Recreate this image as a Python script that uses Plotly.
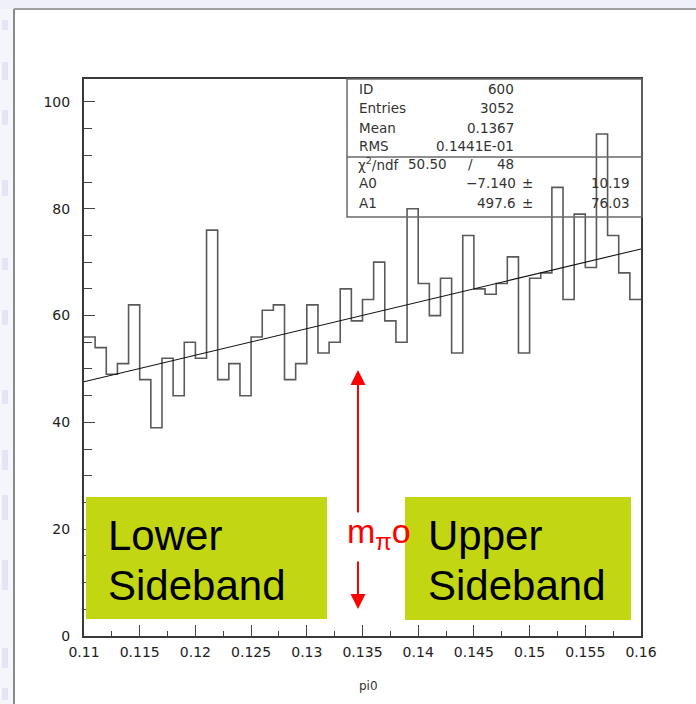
import plotly.graph_objects as go
import numpy as np

# ---------------- data ----------------
counts = [56, 54, 49, 51, 62, 48, 39, 52, 45, 55, 52, 76, 48, 51, 45, 56,
          61, 62, 48, 51, 62, 53, 55, 65, 59, 63, 70, 59, 55, 80, 66, 60, 67, 53,
          75, 65, 64, 66, 71, 53, 67, 68, 84, 63, 79, 69, 94, 75, 68, 63]
x_min, x_max = 0.11, 0.16
x_tick_vals = [0.11, 0.115, 0.12, 0.125, 0.13, 0.135, 0.14, 0.145, 0.15, 0.155, 0.16]
x_tick_text = ["0.11", "0.115", "0.12", "0.125", "0.13", "0.135", "0.14", "0.145", "0.15", "0.155", "0.16"]
y_tick_vals = [0, 20, 40, 60, 80, 100]
stat_names = ["ID", "Entries", "Mean", "RMS"]
stat_values = ["600", "3052", "0.1367", "0.1441E-01"]
chi2_value, ndf_value = "50.50", "48"
fit_names = ["A0", "A1"]
fit_values = ["\u22127.140", "497.6"]
fit_errors = ["10.19", "76.03"]
A0, A1 = -7.140, 497.6
x_title = "pi0"
band_labels = [["Lower", "Sideband"], ["Upper", "Sideband"]]

# ---------------- geometry helpers ----------------
W, H = 696, 704
L, R, T, B = 84, 641, 79, 636


def PX(px):
    return (px - L) / (R - L)


def PY(py):
    return (B - py) / (B - T)


n_bins = len(counts)
edges = np.linspace(x_min, x_max, n_bins + 1)

fig = go.Figure()

# histogram outline
fig.add_trace(go.Scatter(
    x=edges, y=counts + [counts[-1]], mode="lines",
    line=dict(shape="hv", color="#5a5a5a", width=1.6),
    hoverinfo="skip", showlegend=False))

# linear fit
fx = np.array([x_min, x_max])
fig.add_trace(go.Scatter(
    x=fx, y=A0 + A1 * fx, mode="lines",
    line=dict(color="#111111", width=1.1),
    hoverinfo="skip", showlegend=False))

shapes = []
# slide background strips
shapes.append(dict(type="rect", xref="paper", yref="paper", x0=PX(0), x1=PX(14), y0=PY(H + 5), y1=PY(-5),
                   fillcolor="#f5f5fc", line=dict(width=0), layer="below"))
shapes.append(dict(type="rect", xref="paper", yref="paper", x0=PX(0), x1=PX(W + 5), y0=PY(9), y1=PY(-5),
                   fillcolor="#f0f0fa", line=dict(width=0), layer="below"))
for (ya, yb) in [(20, 30), (62, 80), (110, 125), (180, 196), (258, 270), (310, 325), (390, 404),
                 (450, 470), (495, 520), (560, 590), (648, 668), (688, 700)]:
    shapes.append(dict(type="rect", xref="paper", yref="paper", x0=PX(2), x1=PX(8), y0=PY(yb), y1=PY(ya),
                       fillcolor="#e4e4f7", line=dict(width=0), layer="below"))
# outer frame
shapes.append(dict(type="line", xref="paper", yref="paper", x0=PX(14), x1=PX(14), y0=PY(9), y1=PY(H + 5),
                   line=dict(color="#8a8a8a", width=2)))
shapes.append(dict(type="line", xref="paper", yref="paper", x0=PX(14), x1=PX(W + 5), y0=PY(9), y1=PY(9),
                   line=dict(color="#a0a0a0", width=2)))
# stats box
shapes.append(dict(type="rect", xref="paper", yref="paper", x0=PX(347), x1=PX(642), y0=PY(217), y1=PY(79),
                   line=dict(color="#6a6a6a", width=1.5)))
shapes.append(dict(type="line", xref="paper", yref="paper", x0=PX(347), x1=PX(642), y0=PY(157), y1=PY(157),
                   line=dict(color="#6a6a6a", width=1.5)))
# sideband boxes
green = "#c2d612"
shapes.append(dict(type="rect", xref="paper", yref="paper", x0=PX(86), x1=PX(327), y0=PY(619), y1=PY(497),
                   fillcolor=green, line=dict(width=0)))
shapes.append(dict(type="rect", xref="paper", yref="paper", x0=PX(405), x1=PX(631), y0=PY(620), y1=PY(497),
                   fillcolor=green, line=dict(width=0)))

ann = []
sfont = dict(family="DejaVu Sans", size=13.5, color="#333333")
row_y = [89, 108, 127.5, 146.5]
for name, val, yy in zip(stat_names, stat_values, row_y):
    ann.append(dict(xref="paper", yref="paper", x=PX(357), y=PY(yy), text=name, showarrow=False,
                    xanchor="left", yanchor="middle", font=sfont))
    ann.append(dict(xref="paper", yref="paper", x=PX(516), y=PY(yy), text=val, showarrow=False,
                    xanchor="right", yanchor="middle", font=sfont))
ann.append(dict(xref="paper", yref="paper", x=PX(356), y=PY(164), text="\u03c7<sup>2</sup>/ndf", showarrow=False,
                xanchor="left", yanchor="middle", font=sfont))
ann.append(dict(xref="paper", yref="paper", x=PX(406), y=PY(164), text=chi2_value, showarrow=False,
                xanchor="left", yanchor="middle", font=sfont))
ann.append(dict(xref="paper", yref="paper", x=PX(470), y=PY(164), text="/", showarrow=False,
                xanchor="center", yanchor="middle", font=sfont))
ann.append(dict(xref="paper", yref="paper", x=PX(516), y=PY(164), text=ndf_value, showarrow=False,
                xanchor="right", yanchor="middle", font=sfont))
for name, val, err, yy in zip(fit_names, fit_values, fit_errors, [183, 202.5]):
    ann.append(dict(xref="paper", yref="paper", x=PX(357), y=PY(yy), text=name, showarrow=False,
                    xanchor="left", yanchor="middle", font=sfont))
    ann.append(dict(xref="paper", yref="paper", x=PX(518), y=PY(yy), text=val, showarrow=False,
                    xanchor="right", yanchor="middle", font=sfont))
    ann.append(dict(xref="paper", yref="paper", x=PX(527), y=PY(yy), text="\u00b1", showarrow=False,
                    xanchor="center", yanchor="middle", font=sfont))
    ann.append(dict(xref="paper", yref="paper", x=PX(632), y=PY(yy), text=err, showarrow=False,
                    xanchor="right", yanchor="middle", font=sfont))

# sideband labels
bfont = dict(family="Liberation Sans, Arial", size=42, color="#000000")
for (l1, l2), xl in zip(band_labels, [106, 426]):
    ann.append(dict(xref="paper", yref="paper", x=PX(xl), y=PY(535), text=l1, showarrow=False,
                    xanchor="left", yanchor="middle", font=bfont))
    ann.append(dict(xref="paper", yref="paper", x=PX(xl), y=PY(585), text=l2, showarrow=False,
                    xanchor="left", yanchor="middle", font=bfont))

# red arrows and label
ann.append(dict(xref="paper", yref="paper", x=PX(358), y=PY(370), ax=0, ay=144, text="",
                showarrow=True, arrowhead=2, arrowsize=1.5, arrowwidth=2, arrowcolor="#ff0000", standoff=0))
ann.append(dict(xref="paper", yref="paper", x=PX(358), y=PY(609), ax=0, ay=-49, text="",
                showarrow=True, arrowhead=2, arrowsize=1.5, arrowwidth=2, arrowcolor="#ff0000", standoff=0))
ann.append(dict(xref="paper", yref="paper", x=PX(345), y=PY(533), text="m<sub>\u03c0</sub>o", showarrow=False,
                xanchor="left", yanchor="middle", font=dict(family="Liberation Sans, Arial", size=34, color="#ff0000")))

# x title
ann.append(dict(xref="paper", yref="paper", x=PX(368), y=PY(686), text=x_title, showarrow=False,
                xanchor="center", yanchor="middle", font=dict(family="DejaVu Sans", size=12, color="#333333")))

tfont = dict(family="DejaVu Sans", size=14, color="#222222")
fig.update_layout(
    width=W, height=H, margin=dict(l=L, r=W - R, t=T, b=H - B, pad=0),
    paper_bgcolor="#ffffff", plot_bgcolor="rgba(0,0,0,0)",
    showlegend=False, shapes=shapes, annotations=ann,
    xaxis=dict(range=[x_min, x_max], tickvals=x_tick_vals, ticktext=x_tick_text,
               ticks="inside", ticklen=11, tickwidth=1, tickcolor="#444444",
               minor=dict(tick0=0.1125, dtick=0.005, ticks="inside", ticklen=5, tickwidth=1, tickcolor="#444444"),
               showline=True, mirror=True, linecolor="#3a3a3a", linewidth=2,
               showgrid=False, zeroline=False, tickfont=tfont, ticklabelstandoff=2),
    yaxis=dict(range=[0, 104.3], tickvals=y_tick_vals,
               ticks="inside", ticklen=11, tickwidth=1, tickcolor="#444444",
               minor=dict(dtick=5, ticks="inside", ticklen=8, tickwidth=1, tickcolor="#444444"),
               showline=True, mirror=True, linecolor="#3a3a3a", linewidth=2,
               showgrid=False, zeroline=False, tickfont=tfont, ticklabelstandoff=9),
)

fig.write_html("out.html")
